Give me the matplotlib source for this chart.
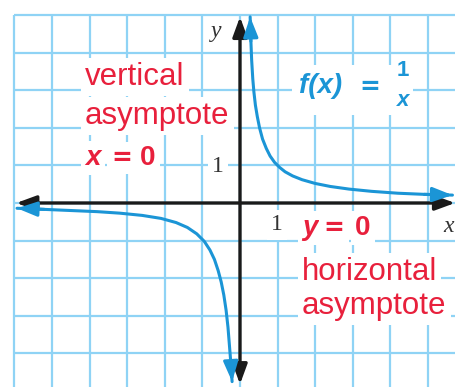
"""Graph of f(x) = 1/x with its two asymptotes, drawn on a square grid."""

import matplotlib

matplotlib.use("Agg")
import matplotlib.pyplot as plt
from matplotlib.patches import Rectangle

# curve points (grid units)
right_x = [0.27, 0.29, 0.31, 0.34, 0.37, 0.41, 0.46, 0.52, 0.6, 0.7, 0.8, 0.92,
           1.05, 1.2, 1.4, 1.65, 2.0, 2.4, 2.9, 3.5, 4.2, 4.9, 5.65]
right_y = [4.95, 4.3, 3.8, 3.3, 2.95, 2.6, 2.3, 2.0, 1.7, 1.45, 1.25, 1.08,
           0.95, 0.83, 0.72, 0.62, 0.52, 0.44, 0.37, 0.31, 0.26, 0.23, 0.21]
left_x = [-5.93, -5.2, -4.5, -3.8, -3.2, -2.6, -2.1, -1.7, -1.4, -1.15, -0.95,
          -0.8, -0.68, -0.58, -0.5, -0.43, -0.37, -0.32, -0.28, -0.24, -0.21]
left_y = [-0.14, -0.17, -0.2, -0.23, -0.27, -0.33, -0.41, -0.52, -0.65, -0.82,
          -1.02, -1.25, -1.5, -1.8, -2.1, -2.45, -2.85, -3.3, -3.8, -4.3, -4.75]
grid_x = list(range(-6, 6))
grid_y = list(range(-4, 6))
tick_label = "1"

BLUE = "#1b95d6"
RED = "#e8203c"
GRID = "#8fd3f5"
INK = "#1a1a1a"

# pixel geometry of the picture: origin and size of one grid square
W, H = 456, 387
OX, OY, U = 240, 203, 37.6


def px(x, y):
    return (x - OX) / U, (OY - y) / U


fig = plt.figure(figsize=(W / 100, H / 100), dpi=100)
ax = fig.add_axes([0, 0, 1, 1])
ax.set_xlim(-OX / U, (W - OX) / U)
ax.set_ylim((OY - H) / U, OY / U)
ax.axis("off")

# grid
ax.vlines(grid_x, ax.get_ylim()[0], grid_y[-1], color=GRID, lw=1.6, zorder=1)
ax.hlines(grid_y, grid_x[0], ax.get_xlim()[1], color=GRID, lw=1.6, zorder=1)


def arrow(tip, tail, color, style="-|>", lw=2.4):
    ax.annotate("", xy=tip, xytext=tail, zorder=5,
                arrowprops=dict(arrowstyle=f"{style},head_length=0.6,head_width=0.22",
                                color=color, lw=lw, shrinkA=0, shrinkB=0,
                                mutation_scale=20))


# axes
arrow((5.72, 0), (-5.95, 0), INK, "<|-|>")
arrow((0, 4.95), (0, -4.82), INK, "<|-|>")

# the two branches
ax.plot(right_x, right_y, color=BLUE, lw=2.2, zorder=6, solid_capstyle="round")
ax.plot(left_x, left_y, color=BLUE, lw=2.2, zorder=6, solid_capstyle="round")
arrow((right_x[0], right_y[0]), (right_x[1], right_y[1]), BLUE, lw=2.2)
arrow((right_x[-1], right_y[-1]), (right_x[-2], right_y[-2]), BLUE, lw=2.2)
arrow((left_x[0], left_y[0]), (left_x[1], left_y[1]), BLUE, lw=2.2)
arrow((left_x[-1], left_y[-1]), (left_x[-2], left_y[-2]), BLUE, lw=2.2)

# axis labels and ticks
serif = dict(family="Liberation Serif", color="#333333", fontsize=17,
             ha="center", va="center", zorder=4)
box = dict(facecolor="white", edgecolor="none", pad=3)
ax.text(*px(216, 31), "y", style="italic", **serif)
ax.text(*px(449, 226), "x", style="italic", **serif)
ax.text(*px(218, 166), tick_label, bbox=box, **serif)
ax.text(*px(277, 225), tick_label, bbox=box, **serif)

# red labels
sans = dict(family="Liberation Sans", color=RED, zorder=4, bbox=box, va="baseline")
eq = dict(family="DejaVu Sans", color=RED, zorder=4, bbox=box, va="baseline",
          ha="center", weight="bold")
ax.text(*px(85, 85), "vertical", fontsize=22.5, **sans)
ax.text(*px(85, 124), "asymptote", fontsize=22.5, **sans)
ax.text(*px(85, 165), "x", fontsize=20, weight="bold", style="italic", **sans)
ax.text(*px(122, 165), "=", fontsize=18, **eq)
ax.text(*px(140, 165), "0", fontsize=20, weight="bold", **sans)

ax.text(*px(302, 235), "y", fontsize=20, weight="bold", style="italic", **sans)
ax.text(*px(334, 235), "=", fontsize=18, **eq)
ax.text(*px(355, 235), "0", fontsize=20, weight="bold", **sans)
ax.text(*px(302, 280), "horizontal", fontsize=22.5, **sans)
ax.text(*px(302, 314), "asymptote", fontsize=22.5, **sans)

# blue function label
x0, y0 = px(292, 115)
x1, y1 = px(413, 65)
ax.add_patch(Rectangle((x0, y0), x1 - x0, y1 - y0, facecolor="white",
                       edgecolor="none", zorder=2))
blue = dict(family="Liberation Sans", color=BLUE, weight="bold", zorder=4,
            va="center")
ax.text(*px(299, 86), "f(x)", fontsize=20, style="italic", **blue)
ax.text(*px(370, 87), "=", fontsize=18, ha="center",
        **{**blue, "family": "DejaVu Sans"})
ax.text(*px(403, 71), "1", fontsize=16, ha="center", **blue)
ax.text(*px(403, 100), "x", fontsize=16, style="italic", ha="center", **blue)

fig.savefig("out.png", dpi=100)
